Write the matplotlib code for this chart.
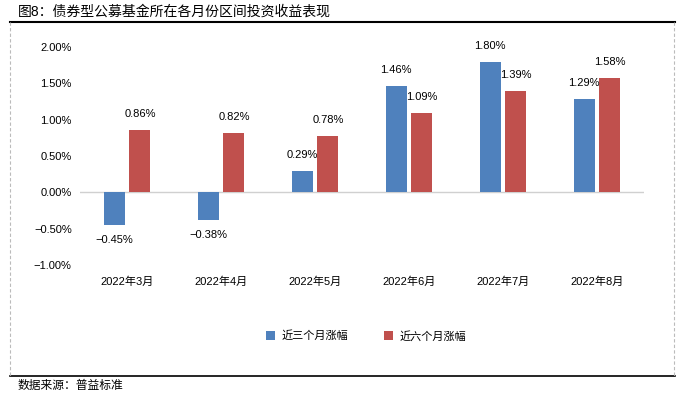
import numpy as np
import matplotlib.pyplot as plt
from matplotlib.lines import Line2D

plt.rcParams['font.family'] = ['Liberation Sans', 'Noto Sans CJK SC', 'DejaVu Sans']

# data
months = ['2022年3月', '2022年4月', '2022年5月', '2022年6月', '2022年7月', '2022年8月']
three_month = [-0.45, -0.38, 0.29, 1.46, 1.80, 1.29]
six_month = [0.86, 0.82, 0.78, 1.09, 1.39, 1.58]
series_names = ['近三个月涨幅', '近六个月涨幅']

blue = '#4F81BD'
red = '#C0504D'

W, H = 684, 396
fig = plt.figure(figsize=(W / 100, H / 100), dpi=100)

# axes box in pixel coords: x 80..644, y (2% at 47, -1% at 265)
ax = fig.add_axes([80 / W, 1 - 265 / H, (644 - 80) / W, (265 - 47) / H])

x = np.arange(len(months))
bw = 0.223
off = 0.138
b1 = ax.bar(x - off, three_month, width=bw, color=blue, label=series_names[0])
b2 = ax.bar(x + off, six_month, width=bw, color=red, label=series_names[1])

for bars in (b1, b2):
    for bar in bars:
        v = bar.get_height()
        cx = bar.get_x() + bar.get_width() / 2
        if v >= 0:
            ax.text(cx, v + 0.15, f'{v:.2f}%', ha='center', va='bottom', fontsize=8)
        else:
            ax.text(cx, v - 0.14, f'{v:.2f}%'.replace('-', '−'), ha='center', va='top', fontsize=8)

ax.set_xlim(-0.5, len(months) - 0.5)
ax.set_ylim(-1.0, 2.0)
ax.set_yticks(np.arange(-1.0, 2.01, 0.5))
ax.set_yticklabels([f'{t:.2f}%'.replace('-', '−') for t in np.arange(-1.0, 2.01, 0.5)], fontsize=8)
ax.set_xticks(x)
ax.set_xticklabels(months, fontsize=8)
ax.tick_params(axis='both', length=0)
ax.tick_params(axis='x', pad=8)
ax.tick_params(axis='y', pad=6)
for s in ax.spines.values():
    s.set_visible(False)
ax.axhline(0, color='#D0D0D0', lw=1, zorder=0)

# legend
fig.legend(handles=[b1, b2], labels=series_names, loc='center', bbox_to_anchor=(366 / W, 1 - 336 / H),
           ncol=2, frameon=False, fontsize=8, handlelength=0.8, handleheight=0.8,
           columnspacing=3.2, handletextpad=0.6)

# title, frame lines and source
fig.text(18 / W, 1 - 12 / H, '图8：债券型公募基金所在各月份区间投资收益表现', fontsize=10, va='center', ha='left')
fig.add_artist(Line2D([10 / W, 675 / W], [1 - 22 / H, 1 - 22 / H], color='black', lw=1.5))
fig.add_artist(Line2D([10 / W, 675 / W], [1 - 376 / H, 1 - 376 / H], color='black', lw=1.2))
fig.add_artist(Line2D([10 / W, 10 / W], [1 - 22 / H, 1 - 376 / H], color='#BBBBBB', lw=0.8, ls=(0, (3, 2))))
fig.add_artist(Line2D([674 / W, 674 / W], [1 - 22 / H, 1 - 376 / H], color='#BBBBBB', lw=0.8, ls=(0, (3, 2))))
fig.text(18 / W, 1 - 386 / H, '数据来源：普益标准', fontsize=8.5, va='center', ha='left')

fig.savefig('out.png', dpi=100)
